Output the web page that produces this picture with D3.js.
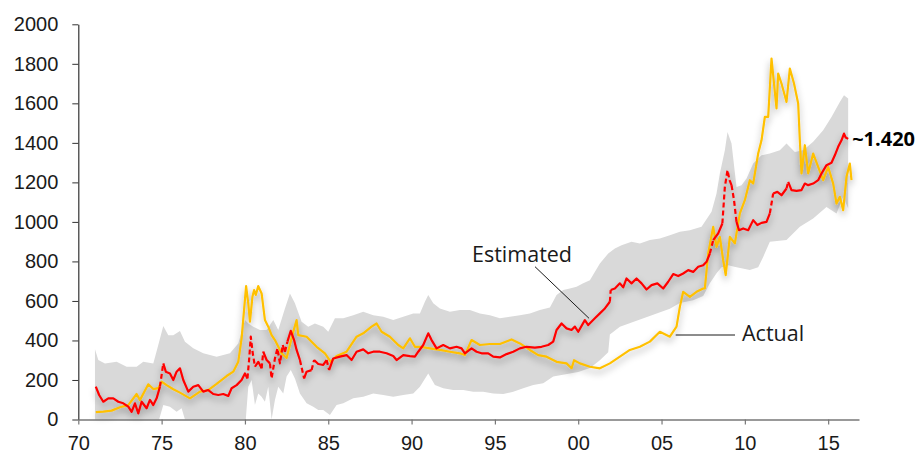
<!DOCTYPE html>
<html>
<head>
<meta charset="utf-8">
<script src="https://cdn.jsdelivr.net/npm/d3@7"></script>
<style>
  html, body { margin: 0; padding: 0; background: #fff; }
  svg { display: block; font-family: "Open Sans", "Noto Sans", sans-serif; }
  .axis text { fill: #1a1a1a; font-size: 20px; }
</style>
</head>
<body>
<svg id="chart" width="919" height="455"></svg>
<script>
// Gold price: actual vs. model estimate (USD/oz), with the model's uncertainty range

const yTicks = [0, 200, 400, 600, 800, 1000, 1200, 1400, 1600, 1800, 2000];
const xTicks = [1970, 1975, 1980, 1985, 1990, 1995, 2000, 2005, 2010, 2015];

// Actual price [year, value]
const actual = [
  [1971.05,37],[1971.5,40],[1972.0,45],[1972.5,62],[1973.0,73],[1973.5,129],[1973.7,98],[1974.2,178],
  [1974.5,154],[1974.8,159],[1975.0,191],[1975.3,174],[1975.7,153],[1976.1,136],[1976.7,107],[1977.3,141],
  [1977.8,149],[1978.3,180],[1978.9,220],[1979.3,242],[1979.6,292],[1979.8,411],[1980.07,675],[1980.2,588],
  [1980.3,495],[1980.45,621],[1980.55,655],[1980.65,630],[1980.8,675],[1981.0,638],[1981.2,503],[1981.4,470],
  [1981.6,427],[1981.8,402],[1982.2,335],[1982.5,311],[1982.9,444],[1983.1,503],[1983.2,427],[1983.7,419],
  [1984.3,368],[1984.8,335],[1985.15,292],[1985.5,321],[1986.1,343],[1986.7,419],[1987.1,436],[1987.6,470],
  [1987.9,486],[1988.2,444],[1988.7,419],[1989.2,377],[1989.5,360],[1989.9,411],[1990.2,368],[1990.5,368],
  [1991.1,360],[1991.7,352],[1992.3,343],[1992.9,335],[1993.2,326],[1993.6,402],[1994.1,377],[1994.7,382],
  [1995.3,382],[1996.0,405],[1996.5,385],[1997.1,352],[1997.6,326],[1998.1,318],[1998.7,292],[1999.3,284],
  [1999.6,259],[1999.75,300],[2000.1,284],[2000.7,267],[2001.3,259],[2001.9,284],[2002.5,318],[2003.1,352],
  [2003.7,368],[2004.3,394],[2004.9,444],[2005.5,419],[2005.9,470],[2006.1,570],[2006.3,646],[2006.7,621],
  [2007.1,646],[2007.5,663],[2007.6,663],[2007.8,840],[2008.1,975],[2008.3,874],[2008.5,924],[2008.7,806],
  [2008.85,731],[2009.1,924],[2009.4,891],[2009.7,1043],[2010.0,1110],[2010.3,1211],[2010.5,1194],[2010.8,1346],
  [2011.0,1413],[2011.2,1531],[2011.4,1531],[2011.6,1827],[2011.75,1700],[2011.9,1574],[2012.0,1751],[2012.2,1700],
  [2012.5,1607],[2012.7,1776],[2012.95,1700],[2013.2,1599],[2013.3,1413],[2013.4,1245],[2013.6,1388],[2013.8,1245],
  [2014.1,1346],[2014.4,1278],[2014.7,1211],[2015.0,1278],[2015.3,1194],[2015.5,1093],[2015.7,1127],[2015.9,1059],
  [2016.1,1228],[2016.3,1295],[2016.4,1211]
];

// Model estimate [year, value]
const estimated = [
  [1971.05,166],[1971.25,124],[1971.5,90],[1971.8,107],[1972.1,107],[1972.4,90],[1972.7,82],[1973.0,65],
  [1973.2,39],[1973.4,82],[1973.6,31],[1973.8,90],[1974.1,57],[1974.3,99],[1974.5,73],[1974.7,107],
  [1974.9,166],[1975.1,284],[1975.25,242],[1975.5,233],[1975.7,200],[1975.9,242],[1976.1,259],[1976.3,200],
  [1976.6,141],[1976.9,166],[1977.2,174],[1977.5,141],[1977.8,149],[1978.1,129],[1978.4,124],[1978.7,129],
  [1979.0,119],[1979.2,158],[1979.5,174],[1979.8,200],[1980.0,233],[1980.15,208],[1980.25,301],[1980.35,419],
  [1980.47,335],[1980.6,267],[1980.8,292],[1981.0,259],[1981.1,343],[1981.3,301],[1981.5,284],[1981.6,208],
  [1981.8,309],[1981.95,360],[1982.1,284],[1982.27,377],[1982.4,343],[1982.55,394],[1982.75,449],[1982.95,402],
  [1983.1,352],[1983.3,301],[1983.55,208],[1983.7,242],[1984.0,250],[1984.15,301],[1984.4,281],[1984.7,276],
  [1984.9,301],[1985.05,250],[1985.3,309],[1985.7,318],[1986.1,326],[1986.4,301],[1986.7,343],[1987.1,355],
  [1987.4,335],[1987.7,343],[1988.1,343],[1988.5,335],[1988.9,321],[1989.1,301],[1989.5,326],[1989.9,321],
  [1990.2,318],[1990.4,343],[1990.7,377],[1991.0,436],[1991.2,402],[1991.5,360],[1991.9,377],[1992.3,360],
  [1992.7,368],[1993.0,360],[1993.2,335],[1993.6,360],[1993.9,343],[1994.2,335],[1994.6,335],[1994.9,318],
  [1995.3,314],[1995.7,331],[1996.1,343],[1996.5,360],[1996.9,368],[1997.4,364],[1997.8,368],[1998.2,377],
  [1998.5,394],[1998.7,453],[1999.0,486],[1999.3,461],[1999.6,453],[1999.8,470],[2000.0,444],[2000.4,503],
  [2000.6,478],[2001.0,512],[2001.3,537],[2001.6,562],[2001.9,596],[2001.95,655],[2002.2,663],[2002.5,689],
  [2002.7,669],[2002.9,714],[2003.2,689],[2003.5,714],[2003.8,689],[2004.1,658],[2004.4,680],[2004.75,689],
  [2005.1,663],[2005.4,697],[2005.7,736],[2006.0,726],[2006.3,739],[2006.6,756],[2006.9,747],[2007.2,773],
  [2007.5,781],[2007.7,798],[2007.9,840],[2008.1,908],[2008.4,942],[2008.65,992],[2008.8,1177],[2008.96,1262],
  [2009.08,1211],[2009.2,1186],[2009.35,1110],[2009.5,1000],[2009.65,958],[2009.9,967],[2010.2,958],[2010.5,1009],
  [2010.75,984],[2011.0,995],[2011.3,1000],[2011.5,1043],[2011.7,1144],[2011.95,1152],[2012.2,1135],[2012.5,1169],
  [2012.6,1203],[2012.8,1161],[2013.1,1157],[2013.4,1161],[2013.6,1194],[2013.8,1186],[2014.1,1194],[2014.4,1211],
  [2014.6,1245],[2014.9,1287],[2015.2,1299],[2015.4,1337],[2015.6,1380],[2015.8,1413],[2015.95,1447],[2016.05,1427],
  [2016.2,1420]
];

// Upper edge of the estimate range [year, value]
const rangeUpper = [
  [1971.0,355],[1971.2,301],[1971.6,284],[1972.3,292],[1972.9,267],[1973.5,267],[1973.9,292],[1974.5,284],
  [1974.8,377],[1975.1,473],[1975.4,427],[1975.7,427],[1976.1,448],[1976.4,394],[1976.9,360],[1977.5,335],
  [1978.3,318],[1979.1,335],[1979.6,385],[1980.0,503],[1980.2,486],[1980.5,470],[1980.9,453],[1981.3,453],
  [1981.7,503],[1982.0,453],[1982.4,562],[1982.7,638],[1983.0,588],[1983.4,495],[1983.8,470],[1984.2,486],
  [1984.7,470],[1985.0,444],[1985.4,512],[1985.9,512],[1986.5,528],[1987.1,545],[1987.7,528],[1988.3,520],
  [1988.9,503],[1989.5,520],[1990.1,537],[1990.5,537],[1990.8,596],[1991.0,630],[1991.3,588],[1991.7,562],
  [1992.3,545],[1992.9,554],[1993.5,554],[1994.1,537],[1994.7,528],[1995.3,512],[1995.9,520],[1996.5,528],
  [1997.1,537],[1997.7,554],[1998.3,567],[1998.7,630],[1999.1,655],[1999.5,663],[1999.9,672],[2000.3,689],
  [2000.7,705],[2001.3,790],[2001.8,840],[2002.2,866],[2002.6,882],[2003.2,899],[2003.7,891],[2004.3,908],
  [2004.9,916],[2005.5,933],[2006.1,950],[2006.7,958],[2007.4,975],[2008.0,1051],[2008.3,1144],[2008.5,1245],
  [2008.8,1363],[2008.96,1455],[2009.2,1397],[2009.5,1177],[2009.8,1186],[2010.1,1220],[2010.5,1295],[2011.0,1337],
  [2011.5,1346],[2012.1,1363],[2012.5,1397],[2013.0,1354],[2013.5,1363],[2014.1,1405],[2014.7,1464],[2015.2,1531],
  [2015.7,1607],[2015.95,1641],[2016.2,1624]
];

// Lower edge of the estimate range [year, value]
const rangeLower = [
  [1971.0,0],[1974.85,0],[1975.1,73],[1975.5,65],[1975.9,39],[1976.2,57],[1976.4,0],[1980.05,0],
  [1980.2,166],[1980.4,200],[1980.6,73],[1980.8,132],[1981.0,115],[1981.2,90],[1981.4,166],[1981.6,0],
  [1981.8,99],[1982.0,166],[1982.3,132],[1982.5,217],[1982.75,250],[1983.0,208],[1983.3,132],[1983.7,82],
  [1984.1,65],[1984.4,48],[1984.7,48],[1985.1,23],[1985.5,73],[1985.9,82],[1986.5,107],[1987.1,115],
  [1987.7,132],[1988.3,124],[1988.9,115],[1989.5,124],[1990.1,132],[1990.5,166],[1991.0,233],[1991.4,174],
  [1991.9,158],[1992.5,149],[1993.1,149],[1993.7,141],[1994.3,141],[1994.9,132],[1995.5,129],[1996.1,141],
  [1996.7,158],[1997.3,174],[1997.9,183],[1998.5,217],[1999.0,225],[2000.0,240],[2000.7,260],[2001.3,300],
  [2001.8,340],[2001.9,430],[2002.5,470],[2003.5,500],[2004.5,530],[2005.5,560],[2006.1,590],[2006.9,604],
  [2007.5,625],[2007.9,690],[2008.3,740],[2008.6,770],[2009.0,780],[2009.5,770],[2010.3,756],[2010.8,770],
  [2011.1,823],[2011.5,899],[2012.5,908],[2013.3,975],[2014.1,1017],[2014.9,1076],[2015.5,1043],[2015.9,1127],
  [2016.2,1068]
];

const lastEstimateLabel = "~1.420";

const svg = d3.select("#chart");

const x = d3.scaleLinear().domain([1970, 2016.85]).range([78.3, 859]);
const y = d3.scaleLinear().domain([0, 2000]).range([419.5, 24.3]);

// soft shadow under the price lines
const defs = svg.append("defs");
const f = defs.append("filter").attr("id", "shadow")
  .attr("x", "-5%").attr("y", "-20%").attr("width", "110%").attr("height", "140%");
f.append("feDropShadow").attr("dx", 0).attr("dy", 4).attr("stdDeviation", 3.5)
  .attr("flood-color", "#000").attr("flood-opacity", 0.35);

// uncertainty range polygon
const poly = rangeUpper.concat(rangeLower.slice().reverse());
svg.append("path")
  .attr("d", d3.line().x(d => x(d[0])).y(d => y(d[1]))(poly) + "Z")
  .attr("fill", "#d9d9d9");

// axes
const yAxis = svg.append("g").attr("class", "axis")
  .attr("transform", `translate(${x(1970)},0)`)
  .call(d3.axisLeft(y).tickValues(yTicks).tickSize(6).tickPadding(14).tickSizeOuter(0)
    .tickFormat(d3.format("d")));
yAxis.select(".domain").attr("stroke", "#333").attr("stroke-width", 1.2);
yAxis.selectAll(".tick line").attr("stroke", "#333");

const xAxis = svg.append("g").attr("class", "axis")
  .attr("transform", `translate(0,${y(0)})`)
  .call(d3.axisBottom(x).tickValues(xTicks).tickSize(5).tickPadding(11).tickSizeOuter(0)
    .tickFormat(d => String(d % 100).padStart(2, "0")));
xAxis.select(".domain").attr("stroke", "#777").attr("stroke-width", 1.5);
xAxis.selectAll(".tick line").attr("stroke", "#777").attr("stroke-width", 1.2);
svg.selectAll(".axis text").attr("fill", "#1a1a1a").style("font-size", "20px");

const lineGen = d3.line().x(d => x(d[0])).y(d => y(d[1]));
const lines = svg.append("g").attr("filter", "url(#shadow)");

// actual price
lines.append("path")
  .attr("d", lineGen(actual))
  .attr("fill", "none").attr("stroke", "#ffc000").attr("stroke-width", 2.2)
  .attr("stroke-linejoin", "round");

// estimate: steep jumps are drawn dashed
const runs = [];
for (let i = 1; i < estimated.length; i++) {
  const a = estimated[i - 1], b = estimated[i];
  const slope = Math.abs((y(b[1]) - y(a[1])) / (x(b[0]) - x(a[0])));
  const dashed = slope > 4;
  const last = runs[runs.length - 1];
  if (last && last.dashed === dashed) last.pts.push(b);
  else runs.push({ dashed, pts: [a, b] });
}
lines.selectAll("path.est").data(runs).join("path")
  .attr("class", "est")
  .attr("d", r => lineGen(r.pts))
  .attr("fill", "none").attr("stroke", "#ff0000").attr("stroke-width", 2.2)
  .attr("stroke-linejoin", "round")
  .attr("stroke-dasharray", r => r.dashed ? "5,3" : null);

// annotations
svg.append("line").attr("x1", 535).attr("y1", 266.7).attr("x2", x(2000.65)).attr("y2", y(512))
  .attr("stroke", "#1a1a1a").attr("stroke-width", 1);
svg.append("text").attr("x", 472).attr("y", 261.5).text("Estimated")
  .attr("fill", "#1a1a1a").style("font-size", "21.5px");

svg.append("line").attr("x1", x(2005.85)).attr("y1", 335).attr("x2", 735).attr("y2", 335)
  .attr("stroke", "#1a1a1a").attr("stroke-width", 1);
svg.append("text").attr("x", 742).attr("y", 341).text("Actual")
  .attr("fill", "#1a1a1a").style("font-size", "21.5px");

const lastEst = estimated[estimated.length - 1];
svg.append("text").attr("x", x(lastEst[0]) + 4).attr("y", y(lastEst[1]) + 7)
  .text(lastEstimateLabel)
  .attr("fill", "#000").style("font-size", "20px").style("font-weight", "700");
</script>
</body>
</html>
